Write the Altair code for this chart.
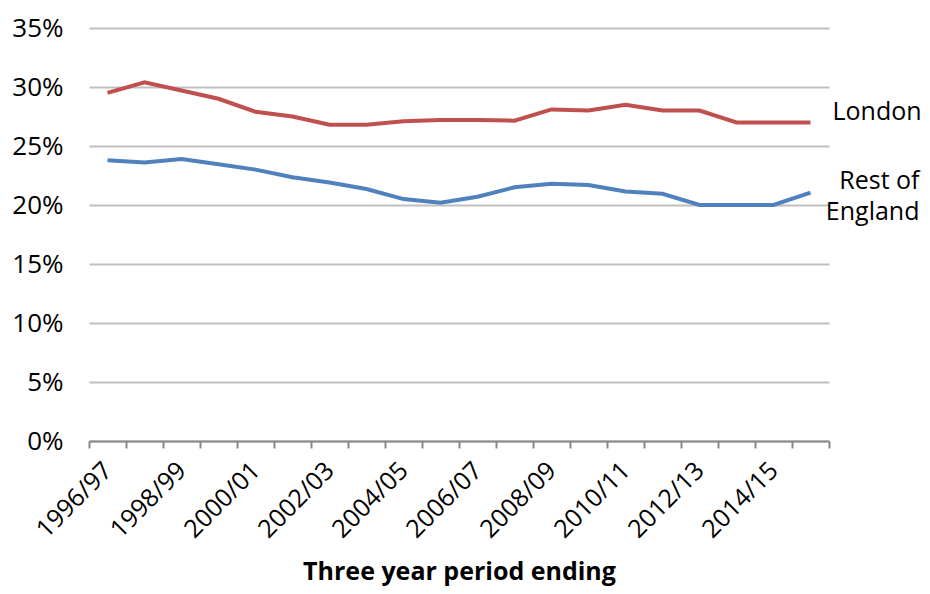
import altair as alt
import pandas as pd

periods = ["1996/97", "1997/98", "1998/99", "1999/00", "2000/01", "2001/02", "2002/03",
           "2003/04", "2004/05", "2005/06", "2006/07", "2007/08", "2008/09", "2009/10",
           "2010/11", "2011/12", "2012/13", "2013/14", "2014/15", "2015/16"]
london = [29.5, 30.4, 29.7, 29.0, 27.9, 27.5, 26.8, 26.8, 27.1, 27.2,
          27.2, 27.15, 28.1, 28.0, 28.5, 28.0, 28.0, 27.0, 27.0, 27.0]
rest_of_england = [23.8, 23.6, 23.9, 23.45, 23.0, 22.35, 21.9, 21.35, 20.5, 20.2,
                   20.7, 21.5, 21.8, 21.7, 21.15, 20.95, 20.0, 20.0, 20.0, 21.05]
series_names = ["London", "Rest of England"]
series_colors = ["#c0504d", "#4f81bd"]

rows = []
for p, v in zip(periods, london):
    rows.append({"period": p, "value": v / 100, "series": "London"})
for p, v in zip(periods, rest_of_england):
    rows.append({"period": p, "value": v / 100, "series": "Rest of England"})
df = pd.DataFrame(rows)

labels_df = pd.DataFrame([
    {"period": periods[-1], "value": london[-1] / 100, "label": "London"},
])
labels_df2 = pd.DataFrame([
    {"period": periods[-1], "value": rest_of_england[-1] / 100, "label": "Rest of\nEngland"},
])

FONT = "Open Sans"

x_enc = alt.X(
    "period:N",
    sort=periods,
    bandPosition=0.5,
    scale=alt.Scale(type="band", paddingInner=0, paddingOuter=0),
    axis=alt.Axis(
        title="Three year period ending",
        titleFont=FONT, titleFontSize=25, titleFontWeight="bold", titleColor="#000000",
        titleBaseline="alphabetic", titleY=138,
        labelAngle=-45, labelAlign="right", labelBaseline="middle",
        labelFont=FONT, labelFontSize=25, labelColor="#000000", labelPadding=18,
        labelExpr="toNumber(substring(datum.value, 0, 4)) % 2 == 0 ? datum.label : ''",
        labelOverlap=False, labelBound=False, labelFlush=False,
        tickBand="extent", ticks=True, tickSize=7, tickColor="#898989", tickWidth=2,
        domainColor="#898989", domainWidth=2, grid=False,
    ),
)
y_scale = alt.Scale(domain=[0, 0.35])
y_enc = alt.Y(
    "value:Q",
    scale=y_scale,
    axis=alt.Axis(
        title=None, format=".0%", values=[0, 0.05, 0.1, 0.15, 0.2, 0.25, 0.3, 0.35],
        labelFont=FONT, labelFontSize=26, labelColor="#000000", labelPadding=26,
        domain=False, ticks=False, grid=True, gridColor="#bfbfbf", gridWidth=2,
    ),
)

lines = alt.Chart(df).mark_line(strokeWidth=4).encode(
    x=x_enc,
    y=y_enc,
    color=alt.Color("series:N", scale=alt.Scale(domain=series_names, range=series_colors), legend=None),
)

lab1 = alt.Chart(labels_df).mark_text(
    align="left", baseline="middle", dx=22, dy=-10, font=FONT, fontSize=25, color="#000000"
).encode(x=alt.X("period:N", sort=periods, bandPosition=0.5), y=alt.Y("value:Q", scale=y_scale), text="label:N")

lab2 = alt.Chart(labels_df2).mark_text(
    align="right", baseline="middle", dx=109, dy=-12, lineHeight=31, lineBreak="\n",
    font=FONT, fontSize=25, color="#000000"
).encode(x=alt.X("period:N", sort=periods, bandPosition=0.5), y=alt.Y("value:Q", scale=y_scale), text="label:N")

chart = alt.layer(lines, lab1, lab2).properties(
    width=740, height=413,
    autosize=alt.AutoSizeParams(type="none"),
    padding={"left": 81, "top": 20, "right": 93, "bottom": 145},
).configure(background="#ffffff").configure_view(stroke=None)

chart.save("out.html", embed_options={"renderer": "svg", "actions": False})
